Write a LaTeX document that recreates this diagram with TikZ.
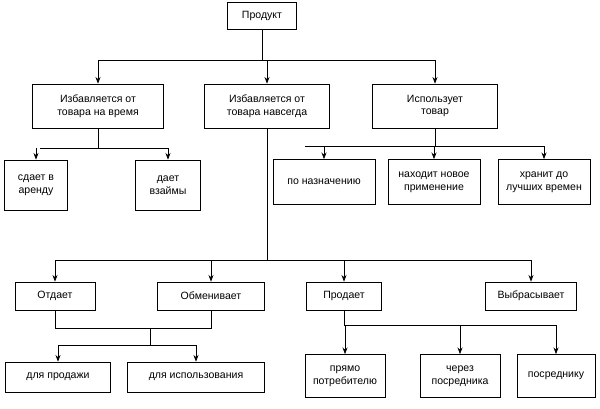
\documentclass[tikz,border=0pt]{standalone}
\usepackage{fontspec}
\setmainfont{Liberation Sans}
\usetikzlibrary{arrows.meta, positioning, calc}

\begin{document}
\begin{tikzpicture}[
    x=0.03cm, y=-0.03cm,
    box/.style={rectangle, draw, line width=0.6pt, align=center, font=\small, inner sep=1pt},
    arrow/.style={-{Stealth[length=2mm]}, line width=0.6pt},
    link/.style={line width=0.6pt}
]
\useasboundingbox (0,0) rectangle (600,408);

% top level
\node[box, minimum width=2.07cm, minimum height=0.81cm] (product) at (262,16) {Продукт};
\node[box, minimum width=3.93cm, minimum height=1.32cm] (temp) at (98,106) {Избавляется от\\товара на время};
\node[box, minimum width=3.75cm, minimum height=1.32cm] (forever) at (267,106) {Избавляется от\\товара навсегда};
\node[box, minimum width=3.75cm, minimum height=1.32cm] (use) at (435,106) {Использует\\товар};

% second level
\node[box, minimum width=1.89cm, minimum height=1.5cm] (rent) at (36,185) {сдает в\\аренду};
\node[box, minimum width=1.95cm, minimum height=1.5cm] (lend) at (168,185) {дает\\взаймы};
\node[box, minimum width=3.06cm, minimum height=1.35cm] (purpose) at (324,182) {по назначению};
\node[box, minimum width=2.76cm, minimum height=1.35cm] (newuse) at (434,182) {находит новое\\применение};
\node[box, minimum width=2.76cm, minimum height=1.35cm] (store) at (544,182) {хранит до\\лучших времен};

% third level
\node[box, minimum width=2.4cm, minimum height=0.84cm] (give) at (55,296) {Отдает};
\node[box, minimum width=3.21cm, minimum height=0.84cm] (swap) at (211,296) {Обменивает};
\node[box, minimum width=2.25cm, minimum height=0.84cm] (sell) at (344,296) {Продает};
\node[box, minimum width=2.73cm, minimum height=0.84cm] (throw) at (531,296) {Выбрасывает};

% fourth level
\node[box, minimum width=3.15cm, minimum height=0.9cm] (forsale) at (58,377) {для продажи};
\node[box, minimum width=4.11cm, minimum height=0.9cm] (foruse) at (196,377) {для использования};
\node[box, minimum width=2.4cm, minimum height=1.29cm] (direct) at (345,376) {прямо\\потребителю};
\node[box, minimum width=2.4cm, minimum height=1.29cm] (via) at (460,376) {через\\посредника};
\node[box, minimum width=2.34cm, minimum height=1.29cm] (dealer) at (556,376) {посреднику};

\coordinate (b1) at (262,60);
\draw[link] (product) -- (b1);
\draw[link] (98,60) -- (435,60);
\foreach \n in {temp, forever, use}
    \draw[arrow] (b1 -| \n) -- (\n.north);

\coordinate (b2) at (98,148);
\draw[link] (temp) -- (b2);
\draw[link] (40,148) -- (168,148);
\draw[arrow] (b2 -| rent) -- (rent.north);
\draw[arrow] (b2 -| lend) -- (lend.north);

\coordinate (b3) at (435,146);
\draw[link] (use) -- (b3);
\draw[link] (305,146) -- (545,146);
\foreach \n in {purpose, newuse, store}
    \draw[arrow] (b3 -| \n) -- (\n.north);

\coordinate (b4) at (267,260);
\draw[link] (forever) -- (b4);
\draw[link] (55,260) -- (531,260);
\foreach \n in {give, swap, sell, throw}
    \draw[arrow] (b4 -| \n) -- (\n.north);

\coordinate (b5) at (150,328);
\draw[link] (give.south) |- (b5) -| (swap.south);
\coordinate (b6) at (150,345);
\draw[link] (b5) -- (b6);
\draw[link] (58,345) -- (196,345);
\draw[arrow] (b6 -| forsale) -- (forsale.north);
\draw[arrow] (b6 -| foruse) -- (foruse.north);

\coordinate (b7) at (360,325);
\draw[link] (sell.south) |- (b7);
\draw[link] (345,325) -- (556,325);
\foreach \n in {direct, via, dealer}
    \draw[arrow] (b7 -| \n) -- (\n.north);
\end{tikzpicture}
\end{document}
